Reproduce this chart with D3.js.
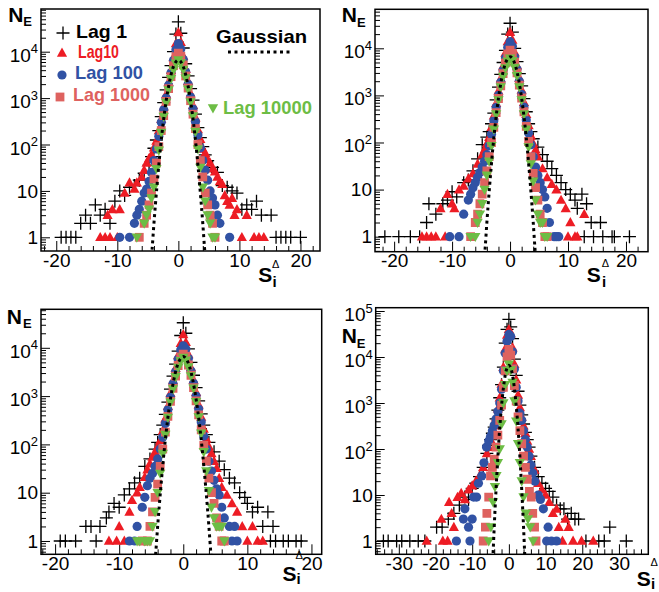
<!DOCTYPE html>
<html><head><meta charset="utf-8">
<script src="https://cdn.jsdelivr.net/npm/d3@7"></script>
<style>
body{margin:0;background:#fff}
svg{display:block}
text{font-family:"Liberation Sans",Arial,Helvetica,sans-serif}
</style>
</head><body>
<svg id="c" width="659" height="592"></svg>
<script>
// ---------------- DATA ----------------
const seriesNames = ["Lag 1", "Lag10", "Lag 100", "Lag 1000", "Lag 10000"];
const gaussianName = "Gaussian";

const xTicksA = [-20, -10, 0, 10, 20];
const xTicksB = [-30, -20, -10, 0, 10, 20, 30];
const yTicksA = [1, 10, 100, 1000, 10000];
const yTicksB = [1, 10, 100, 1000, 10000, 100000];

// Gaussian reference curve
const gaussX = [-4.7, -4.3, -4.0, -3.5, -3.0, -2.5, -2.0, -1.5, -1.0, -0.5, 0, 0.5, 1.0, 1.5, 2.0, 2.5, 3.0, 3.5, 4.0, 4.3, 4.7];
const gaussN = [0.15, 0.56, 2, 13, 69, 280, 870, 2100, 4000, 5800, 6600, 5800, 4000, 2100, 870, 280, 69, 13, 2, 0.56, 0.15];

// Panel 1 (top-left)
const p1Lag1 = [[-19.2,1],[-18.4,1],[-17.6,1],[-16.8,1],[-16,2],[-15.2,3],[-14.4,2],[-13.6,5],[-12.8,3],[-12,4],[-11.2,2],[-10.4,6],[-9.6,10],[-8.8,8],[-8,12],[-7.2,13],[-6.4,17],[-5.6,24],[-4.8,36],[-4.4,55],[-4,83],[-3.6,125],[-3.2,200],[-2.8,400],[-2.4,800],[-2,1500],[-1.6,2800],[-1.2,5000],[-0.8,10000],[-0.4,24000],[0,44000],[0.4,25000],[0.8,12000],[1.2,5500],[1.6,3000],[2,1600],[2.4,900],[2.8,450],[3.2,230],[3.6,140],[4,90],[4.4,60],[4.8,45],[5.6,32],[6.4,25],[7.2,13],[8,12],[8.8,10],[9.6,9],[10.4,4],[11.2,5],[12,4],[12.8,6],[13.6,3],[15.2,3],[16,1],[16.8,1],[17.6,1],[18.4,1],[20,1]];
const p1Lag10 = [[-12.8,1],[-12,1],[-11.6,3],[-11.2,1],[-10.8,4],[-10,1],[-9.6,4],[-8.8,9],[-8,15],[-7.2,11],[-6.8,15],[-6,20],[-5.6,28],[-5.2,40],[-4.8,50],[-4.4,60],[-4,85],[-3.6,120],[-3.2,200],[-2.8,350],[-2.4,650],[-2,1200],[-1.6,2200],[-1.2,4000],[-0.8,7500],[-0.4,15000],[0,26000],[0.4,16000],[0.8,8000],[1.2,4200],[1.6,2300],[2,1250],[2.4,700],[2.8,380],[3.2,210],[3.6,130],[4,80],[4.4,65],[4.8,48],[5.2,40],[5.6,30],[6,26],[6.4,20],[6.8,16],[7.2,14],[7.6,8],[8,6],[8.4,5],[8.8,7],[9.2,3],[9.6,4],[10.4,1],[11.2,3],[12.4,1],[13.2,1],[14,1]];
const p1Lag100 = [[-9.6,1],[-8,1],[-7.2,2],[-6.8,3],[-6.4,4],[-6,6],[-5.6,9],[-5.2,11],[-4.8,16],[-4.4,25],[-4,45],[-3.6,80],[-3.2,150],[-2.8,300],[-2.4,560],[-2,1000],[-1.6,1900],[-1.2,3500],[-0.8,6500],[-0.4,11000],[0,15000],[0.4,11500],[0.8,6800],[1.2,3700],[1.6,2000],[2,1050],[2.4,580],[2.8,310],[3.2,160],[3.6,85],[4,45],[4.4,28],[4.8,17],[5.2,10],[5.6,7],[6,5],[6.4,3],[6.8,2],[8.4,1]];
const p1Lag1000 = [[-6.4,1],[-5.6,2],[-5.2,3],[-4.8,5],[-4.4,9],[-4,18],[-3.6,40],[-3.2,90],[-2.8,200],[-2.4,420],[-2,850],[-1.6,1600],[-1.2,2900],[-0.8,5000],[-0.4,7800],[0,9300],[0.4,8000],[0.8,5200],[1.2,3000],[1.6,1650],[2,880],[2.4,450],[2.8,220],[3.2,100],[3.6,45],[4,20],[4.4,9],[4.8,5],[5.2,3],[5.6,2],[6,1]];
const p1Lag10000 = [[-6.8,1],[-5.6,2],[-5.2,3],[-4.8,4],[-4.4,7],[-4,12],[-3.6,30],[-3.2,75],[-2.8,180],[-2.4,400],[-2,800],[-1.6,1500],[-1.2,2600],[-0.8,4000],[-0.4,5600],[0,6600],[0.4,5700],[0.8,4100],[1.2,2700],[1.6,1550],[2,820],[2.4,410],[2.8,190],[3.2,80],[3.6,32],[4,12],[4.4,6],[4.8,3],[5.2,2],[5.6,1],[6,1]];

// Panel 2 (top-right)
const p2Lag1 = [[-21.6,1],[-19.2,1],[-17.2,1],[-15.6,1],[-14.4,2],[-14,5],[-12.8,3],[-11.6,5],[-10.8,6],[-10,9],[-9.2,7],[-8,14],[-7.2,16],[-6.4,25],[-5.6,45],[-4.8,90],[-4,130],[-3.6,170],[-3.2,250],[-2.8,420],[-2.4,800],[-2,1500],[-1.6,2800],[-1.2,5000],[-0.8,9000],[-0.4,20000],[0,34000],[0.4,22000],[0.8,10000],[1.2,5200],[1.6,2900],[2,1600],[2.4,850],[2.8,450],[3.2,250],[3.6,170],[4,120],[4.8,80],[5.6,55],[6.4,40],[7.2,28],[8,20],[8.8,14],[9.6,10],[10.4,8],[11.2,6],[11.6,4],[12.4,8],[12.8,1],[13.2,5],[14,2],[14.4,1],[15.6,2],[16,1],[17.6,1],[18,1],[20.6,1]];
const p2Lag10 = [[-15.2,1],[-14.4,1],[-13.6,1],[-12.8,1],[-12,4],[-11.2,1],[-10.8,8],[-10,5],[-9.6,4],[-8.8,10],[-8,12],[-7.2,17],[-6.4,22],[-5.6,35],[-4.8,55],[-4.4,70],[-4,95],[-3.6,130],[-3.2,210],[-2.8,370],[-2.4,680],[-2,1250],[-1.6,2300],[-1.2,4200],[-0.8,8000],[-0.4,14000],[0,22000],[0.4,15000],[0.8,8200],[1.2,4300],[1.6,2350],[2,1300],[2.4,720],[2.8,400],[3.2,230],[3.6,140],[4,95],[4.4,70],[4.8,50],[5.6,28],[6.4,18],[7.2,13],[8,10],[8.8,6],[9.6,4],[10,1],[10.4,2],[11.2,1],[11.6,1],[12.8,3]];
const p2Lag100 = [[-10.4,1],[-8.8,1],[-8,3],[-7.2,6],[-6.8,8],[-6.4,11],[-6,14],[-5.6,18],[-5.2,23],[-4.8,30],[-4.4,40],[-4,55],[-3.6,85],[-3.2,150],[-2.8,290],[-2.4,550],[-2,1000],[-1.6,1900],[-1.2,3400],[-0.8,6200],[-0.4,10500],[0,13800],[0.4,11000],[0.8,6500],[1.2,3600],[1.6,2000],[2,1050],[2.4,570],[2.8,300],[3.2,160],[3.6,90],[4,50],[4.4,30],[4.8,20],[5.2,14],[5.6,10],[6,7],[6.4,4],[6.8,2],[7.6,1],[8,1],[8.4,1]];
const p2Lag1000 = [[-6.8,1],[-6,2],[-5.6,3],[-5.2,5],[-4.8,8],[-4.4,14],[-4,25],[-3.6,50],[-3.2,100],[-2.8,210],[-2.4,430],[-2,860],[-1.6,1600],[-1.2,2900],[-0.8,4900],[-0.4,7600],[0,9100],[0.4,7800],[0.8,5100],[1.2,3000],[1.6,1650],[2,880],[2.4,450],[2.8,220],[3.2,105],[3.6,50],[4,22],[4.4,11],[4.8,6],[5.2,3],[5.6,2],[6,1],[6.4,1]];
const p2Lag10000 = [[-6.8,1],[-6,1],[-5.6,2],[-5.2,3],[-4.8,5],[-4.4,10],[-4,20],[-3.6,40],[-3.2,85],[-2.8,190],[-2.4,400],[-2,800],[-1.6,1500],[-1.2,2500],[-0.8,3800],[-0.4,5300],[0,6100],[0.4,5400],[0.8,3900],[1.2,2600],[1.6,1500],[2,800],[2.4,400],[2.8,190],[3.2,80],[3.6,35],[4,15],[4.4,6],[4.8,3],[5.2,2],[5.6,2],[6,1],[6.4,1]];

// Panel 3 (bottom-left)
const p3Lag1 = [[-19.2,1],[-18.4,1],[-16.8,1],[-15.2,2],[-14.4,2],[-13.6,1],[-13,2],[-12,3],[-11.6,4],[-10.8,6],[-10,5],[-9.2,9],[-8.4,12],[-7.6,16],[-6.8,20],[-6,35],[-5.2,50],[-4.4,80],[-4,110],[-3.6,160],[-3.2,250],[-2.8,420],[-2.4,750],[-2,1400],[-1.6,2600],[-1.2,4600],[-0.8,8500],[-0.4,18000],[0,33000],[0.4,20000],[0.8,9500],[1.2,5000],[1.6,2700],[2,1500],[2.4,800],[2.8,430],[3.2,250],[3.6,160],[4,110],[4.8,70],[5.6,45],[6.4,30],[7.2,20],[8,16],[8.8,10],[9.6,8],[10,6],[10.8,4],[11.6,5],[12.4,2],[13.2,4],[13.6,1],[14,2],[14.4,1],[15.6,1],[16.4,1],[17.6,1],[18.4,1]];
const p3Lag10 = [[-11.6,1],[-10.4,1],[-10,2],[-9.2,1],[-8.4,4],[-8,7],[-7.2,10],[-6.8,13],[-6,21],[-5.6,30],[-5.2,40],[-4.8,55],[-4.4,70],[-4,90],[-3.6,120],[-3.2,190],[-2.8,340],[-2.4,620],[-2,1150],[-1.6,2100],[-1.2,3800],[-0.8,7000],[-0.4,12500],[0,19000],[0.4,13000],[0.8,7300],[1.2,3900],[1.6,2150],[2,1200],[2.4,660],[2.8,370],[3.2,210],[3.6,130],[4,90],[4.4,65],[4.8,45],[5.2,32],[5.6,20],[6,13],[6.8,9],[7.6,6],[8.4,4],[9.2,2],[10,1],[10.8,2],[11.6,1],[12.4,1]];
const p3Lag100 = [[-8.4,1],[-7.6,1],[-7.2,2],[-6.4,5],[-6,8],[-5.6,14],[-5.2,20],[-4.8,25],[-4.4,35],[-4,50],[-3.6,80],[-3.2,140],[-2.8,270],[-2.4,520],[-2,950],[-1.6,1800],[-1.2,3200],[-0.8,5800],[-0.4,9000],[0,11000],[0.4,9500],[0.8,6000],[1.2,3300],[1.6,1850],[2,1000],[2.4,540],[2.8,290],[3.2,150],[3.6,80],[4,45],[4.4,28],[4.8,18],[5.2,12],[5.6,9],[6,5],[6.4,3],[7.2,2],[7.6,1],[8,2],[8.4,1]];
const p3Lag1000 = [[-6.4,1],[-5.6,1],[-5.2,2],[-4.8,4],[-4.4,8],[-4,15],[-3.6,35],[-3.2,80],[-2.8,180],[-2.4,380],[-2,780],[-1.6,1450],[-1.2,2600],[-0.8,4300],[-0.4,6500],[0,7400],[0.4,6600],[0.8,4400],[1.2,2700],[1.6,1500],[2,800],[2.4,410],[2.8,200],[3.2,95],[3.6,45],[4,20],[4.4,10],[4.8,6],[5.2,3],[5.6,2],[6,1],[6.4,1]];
const p3Lag10000 = [[-7.2,1],[-6.8,1],[-6,1],[-5.6,1],[-5.2,1],[-4.8,2],[-4.4,4],[-4,10],[-3.6,25],[-3.2,65],[-2.8,160],[-2.4,360],[-2,740],[-1.6,1400],[-1.2,2500],[-0.8,3900],[-0.4,5400],[0,6300],[0.4,5500],[0.8,4000],[1.2,2600],[1.6,1450],[2,760],[2.4,370],[2.8,170],[3.2,70],[3.6,28],[4,11],[4.4,5],[4.8,3],[5.2,2],[5.6,2],[6,2],[6.4,1]];

// Panel 4 (bottom-right)
const p4Lag1 = [[-34.2,1],[-32.9,1],[-30.6,1],[-29.2,1],[-27,1],[-24.7,1],[-22.9,1],[-19.7,2],[-18.2,2],[-16.5,3],[-15,4],[-13.5,6],[-12,9],[-11,8],[-10,14],[-9,18],[-8,25],[-7,40],[-6,80],[-5.5,120],[-5,160],[-4.5,220],[-4,300],[-3.5,450],[-3,700],[-2.5,1300],[-2,2500],[-1.5,6000],[-1,20000],[-0.5,40000],[0,66000],[0.5,45000],[1,25000],[1.5,9000],[2,4000],[2.5,1800],[3,900],[3.5,550],[4,350],[4.5,230],[5,160],[5.5,110],[6,70],[7,40],[8,25],[9,18],[10,14],[11,12],[12,9],[13,6],[14,5],[15,5],[16,3],[17,4],[18,3],[19,3],[21,1],[24.5,1],[26,1],[27.5,2],[32,1]];
const p4Lag10 = [[-22.4,1],[-18.4,3],[-18,1],[-16.7,1],[-16.3,7],[-15.6,4],[-15,2],[-14,9],[-13,11],[-12,8],[-11,13],[-10,16],[-9,20],[-8,26],[-7,40],[-6,80],[-5.5,110],[-5,160],[-4.5,230],[-4,320],[-3.5,480],[-3,750],[-2.5,1300],[-2,2600],[-1.5,6000],[-1,15000],[-0.5,30000],[0,40000],[0.5,32000],[1,16000],[1.5,7000],[2,3200],[2.5,1500],[3,800],[3.5,500],[4,320],[4.5,220],[5,150],[5.5,100],[6,70],[7,35],[8,18],[9,13],[10,10],[11,7],[12,4],[13,5],[13.6,2],[14.6,1],[15.4,3],[16.3,2],[17.5,1],[19.8,1],[23,1]];
const p4Lag100 = [[-14.3,1],[-12.4,3],[-12,5],[-11,2],[-10.6,1],[-10,3],[-9.6,9],[-8.8,9],[-8.3,18],[-7.4,26],[-6.8,50],[-6.1,110],[-5.5,150],[-5,190],[-4.5,250],[-4,330],[-3.5,450],[-3,650],[-2.5,1000],[-2,2000],[-1.5,5000],[-1,12000],[-0.5,22000],[0,31000],[0.5,28000],[1,13000],[1.5,5500],[2,2200],[2.5,1100],[3,600],[3.5,420],[4,250],[4.5,160],[5,110],[5.5,70],[6,45],[6.5,30],[7.1,20],[8,10],[8.6,8],[9.4,5],[10.3,1],[10.7,2],[11.6,1],[13,1]];
const p4Lag1000 = [[-7,1],[-6.4,2],[-6,4],[-5.5,9],[-5,26],[-4.5,40],[-4,60],[-3.5,110],[-3,200],[-2.5,420],[-2,900],[-1.5,2200],[-1,5000],[-0.5,10000],[0,14700],[0.5,11000],[1,5500],[1.5,2400],[2,1100],[2.5,500],[3,250],[3.5,130],[4,70],[4.5,40],[5,22],[5.6,12],[6.1,9],[6.5,4],[7,2],[7.4,1]];
const p4Lag10000 = [[-5.5,1],[-4.9,2],[-4.3,7],[-3.8,15],[-3.4,26],[-3,50],[-2.5,100],[-2,350],[-1.5,1000],[-1,2500],[-0.5,5000],[0,6900],[0.5,5200],[1,2800],[1.5,1100],[2,400],[2.5,130],[3,50],[3.5,20],[4,9],[4.6,4],[5.2,3],[5.8,2],[6.6,1]];

// ---------------- LAYOUT / STYLE ----------------
const colors = ["#000000", "#ed1c24", "#3152a4", "#de625f", "#6dbd45"];
const shapes = ["plus", "up", "circle", "square", "down"];

const panels = [
  {x0:41, x1:320, y0:9, y1:251, xDom:[-22.5,23.2], yDom:[0.507,83200], xTicks:xTicksA, yTicks:yTicksA,
   data:[p1Lag1,p1Lag10,p1Lag100,p1Lag1000,p1Lag10000], N:[8.3,21.7], E:[23.3,25.5], S:[258.3,281.7], D:[272,267.5], I:[272.5,287]},
  {x0:375, x1:648, y0:9.3, y1:251.7, xDom:[-23.3,23.8], yDom:[0.48,67300], xTicks:xTicksA, yTicks:yTicksA,
   data:[p2Lag1,p2Lag10,p2Lag100,p2Lag1000,p2Lag10000], N:[341.7,21.7], E:[357,26.5], S:[586.7,281.7], D:[601.7,266.7], I:[602,286.7]},
  {x0:41, x1:321.7, y0:309.3, y1:554.3, xDom:[-22.2,21.6], yDom:[0.53,62700], xTicks:xTicksA, yTicks:yTicksA,
   data:[p3Lag1,p3Lag10,p3Lag100,p3Lag1000,p3Lag10000], N:[6.7,324.3], E:[23,327.7], S:[282.5,581], D:[295.5,558.5], I:[296.5,584]},
  {x0:375.7, x1:648.3, y0:307.7, y1:554.3, xDom:[-36.3,38.0], yDom:[0.514,118000], xTicks:xTicksB, yTicks:yTicksB,
   data:[p4Lag1,p4Lag10,p4Lag100,p4Lag1000,p4Lag10000], N:[341.7,342.7], E:[356.7,347.7], S:[636.7,586], D:[650.5,566], I:[651,589]}
];

const symPath = {
  plus: "M-6.5,0H6.5M0,-6.5V6.5",
  up: "M0,-5.4L5.1,3.8L-5.1,3.8Z",
  down: "M0,5.4L-5.2,-3.8L5.2,-3.8Z",
  square: "M-4.4,-4.4H4.4V4.4H-4.4Z",
  circle: d3.symbol(d3.symbolCircle, Math.PI * 4.6 * 4.6)()
};

function drawMarker(sel, shape, color) {
  sel.attr("d", symPath[shape]);
  if (shape === "plus") sel.attr("fill", "none").attr("stroke", color).attr("stroke-width", 1.3);
  else sel.attr("fill", color).attr("stroke", "none");
}

const svg = d3.select("#c");
const FONT = '"Liberation Sans", Arial, Helvetica, sans-serif';

panels.forEach((P, i) => {
  const g = svg.append("g");
  const x = d3.scaleLinear().domain(P.xDom).range([P.x0, P.x1]);
  const y = d3.scaleLog().domain(P.yDom).range([P.y1, P.y0]);

  const clipId = "clip" + i;
  svg.append("clipPath").attr("id", clipId).append("rect")
    .attr("x", P.x0).attr("y", P.y0).attr("width", P.x1 - P.x0).attr("height", P.y1 - P.y0);

  // x minor ticks
  const xMinor = d3.range(Math.ceil(P.xDom[0] / 2) * 2, P.xDom[1], 2).filter(v => v % 10 !== 0);
  g.append("g").attr("transform", `translate(0,${P.y1})`)
    .call(d3.axisBottom(x).tickValues(xMinor).tickSize(-5).tickFormat(""))
    .call(s => s.select(".domain").remove());
  // x major ticks
  g.append("g").attr("transform", `translate(0,${P.y1})`)
    .call(d3.axisBottom(x).tickValues(P.xTicks).tickSize(-10).tickPadding(2).tickFormat(d => String(d)))
    .call(s => s.select(".domain").remove())
    .attr("font-family", FONT).attr("font-size", 19);

  // y minor ticks
  const yMinor = [];
  for (let e = -1; e <= 5; e++) for (let k = 2; k <= 9; k++) {
    const v = k * Math.pow(10, e);
    if (v >= P.yDom[0] && v <= P.yDom[1]) yMinor.push(v);
  }
  g.append("g").attr("transform", `translate(${P.x0},0)`)
    .call(d3.axisLeft(y).tickValues(yMinor).tickSize(-5).tickFormat(""))
    .call(s => s.select(".domain").remove());
  // y major ticks
  g.append("g").attr("transform", `translate(${P.x0},0)`)
    .call(d3.axisLeft(y).tickValues(P.yTicks).tickSize(-9).tickPadding(3).tickFormat(d => String(d)))
    .call(s => s.select(".domain").remove())
    .attr("font-family", FONT).attr("font-size", 19)
    .call(s => s.selectAll(".tick text").each(function (d) {
      if (d >= 100) {
        const t = d3.select(this);
        t.text("10").attr("dy", "0.5em");
        t.append("tspan").attr("dy", -8.5).attr("font-size", 13).text(Math.round(Math.log10(d)));
      }
    }));

  // markers
  P.data.forEach((arr, si) => {
    const sg = g.append("g").attr("clip-path", `url(#${clipId})`);
    sg.selectAll("path").data(arr).join("path")
      .attr("transform", d => `translate(${x(d[0])},${y(d[1])})`)
      .call(s => drawMarker(s, shapes[si], colors[si]));
  });

  // Gaussian
  const gdata = gaussX.map((v, k) => [v, gaussN[k]]);
  g.append("path").datum(gdata).attr("clip-path", `url(#${clipId})`)
    .attr("d", d3.line().x(d => x(d[0])).y(d => y(d[1])).curve(d3.curveMonotoneX))
    .attr("fill", "none").attr("stroke", "#000").attr("stroke-width", 3).attr("stroke-dasharray", "3,3.5");

  // frame
  g.append("rect").attr("x", P.x0).attr("y", P.y0).attr("width", P.x1 - P.x0).attr("height", P.y1 - P.y0)
    .attr("fill", "none").attr("stroke", "#000").attr("stroke-width", 1.5);

  // axis titles
  g.append("text").attr("x", P.N[0]).attr("y", P.N[1]).attr("font-weight", "bold").attr("font-size", 21).text("N");
  g.append("text").attr("x", P.E[0]).attr("y", P.E[1]).attr("font-weight", "bold").attr("font-size", 13).text("E");
  g.append("text").attr("x", P.S[0]).attr("y", P.S[1]).attr("font-weight", "bold").attr("font-size", 21).text("S");
  g.append("text").attr("x", P.D[0]).attr("y", P.D[1]).attr("font-size", 11).text("Δ");
  g.append("text").attr("x", P.I[0]).attr("y", P.I[1]).attr("font-weight", "bold").attr("font-size", 15).text("i");
});

// ---------------- LEGEND (panel 1) ----------------
const legendPos = [
  {mx:63, my:33, tx:76, ty:37.5, w:51},
  {mx:62, my:53, tx:78, ty:57.5, w:41},
  {mx:62, my:75, tx:75, ty:79, w:68},
  {mx:60, my:97, tx:73, ty:101, w:77},
  {mx:213, my:108, tx:223, ty:114, w:89}
];
const lg = svg.append("g");
seriesNames.forEach((name, i) => {
  const L = legendPos[i];
  lg.append("path").attr("transform", `translate(${L.mx},${L.my})`).call(s => drawMarker(s, shapes[i], colors[i]));
  lg.append("text").attr("x", L.tx).attr("y", L.ty).attr("font-weight", "bold").attr("font-size", 19)
    .attr("fill", colors[i]).attr("textLength", L.w).attr("lengthAdjust", "spacingAndGlyphs").text(name);
});
lg.append("text").attr("x", 216).attr("y", 43).attr("font-weight", "bold").attr("font-size", 19)
  .attr("textLength", 91).attr("lengthAdjust", "spacingAndGlyphs").text(gaussianName);
lg.append("line").attr("x1", 228).attr("x2", 290).attr("y1", 52).attr("y2", 52)
  .attr("stroke", "#000").attr("stroke-width", 3).attr("stroke-dasharray", "3,3.5");
</script>
</body></html>
